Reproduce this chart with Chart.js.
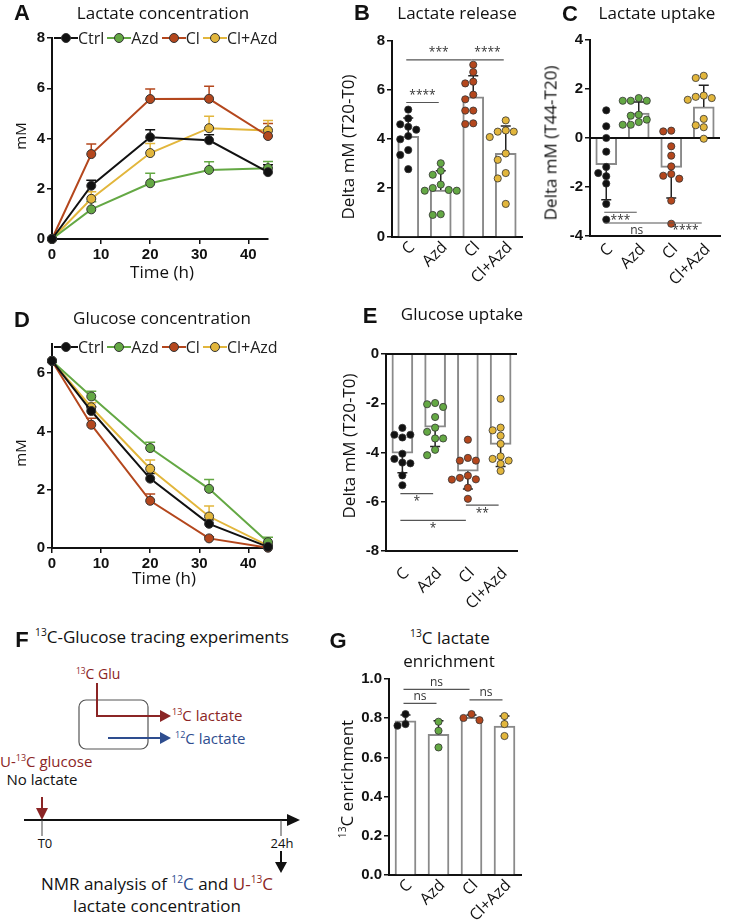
<!DOCTYPE html>
<html>
<head>
<meta charset="utf-8">
<script src="https://cdn.jsdelivr.net/npm/chart.js@4.4.1/dist/chart.umd.min.js"></script>
<style>
body { margin: 0; background: #fff; }
#fig { position: relative; width: 740px; height: 922px; overflow: hidden; font-family: "Open Sans", sans-serif; color: #111; }
canvas { position: absolute; }
.t { position: absolute; white-space: nowrap; transform: translate(-50%, -50%); line-height: 1; }
.tl { position: absolute; white-space: nowrap; transform: translate(0, -50%); line-height: 1; }
.lab { font-family: "Liberation Sans", Arial, sans-serif; font-weight: bold; font-size: 22px; }
.ttl { font-size: 17px; }
.yt { font-size: 17px; transform: translate(-50%, -50%) rotate(-90deg); }
.red { color: #8b2525; }
.blue { color: #2e4d8f; }
sup { font-size: 0.6em; vertical-align: 0.6em; line-height: 0; }
.lg { position: absolute; display: flex; align-items: center; transform: translateY(-50%); font-size: 16px; color: #222; line-height: 1; }
.lg span { display: flex; align-items: center; margin-right: 3px; }
.ic { display: inline-block; width: 24px; height: 10px; position: relative; }
.ic::before { content: ''; position: absolute; left: 0; right: 0; top: 4px; height: 2px; background: var(--c); }
.ic::after { content: ''; position: absolute; left: 7px; top: 0; width: 8px; height: 8px; border-radius: 50%; background: var(--c); border: 1px solid #333; }
</style>
</head>
<body>
<div id="fig">
  <canvas id="chA"></canvas>
  <canvas id="chB"></canvas>
  <canvas id="chC"></canvas>
  <canvas id="chD"></canvas>
  <canvas id="chE"></canvas>
  <canvas id="chG"></canvas>

  <div class="t lab" style="left:22px;top:13px">A</div>
  <div class="t ttl" style="left:163px;top:12px">Lactate concentration</div>
  <div class="t lab" style="left:362px;top:13px">B</div>
  <div class="t ttl" style="left:457px;top:12px">Lactate release</div>
  <div class="t lab" style="left:570px;top:14px">C</div>
  <div class="t ttl" style="left:657px;top:12px">Lactate uptake</div>
  <div class="t yt" style="left:20px;top:136px;font-size:15px">mM</div>
  <div class="t yt" style="left:347px;top:147px">Delta mM (T20-T0)</div>
  <div class="t yt" style="left:550px;top:143px">Delta mM (T44-T20)</div>
  <div class="t ttl" style="left:162px;top:271px">Time (h)</div>
  <div class="lg" id="legA" style="left:54px;top:38px"></div>

  <div class="t lab" style="left:22px;top:320px">D</div>
  <div class="t ttl" style="left:162px;top:317px">Glucose concentration</div>
  <div class="t lab" style="left:370px;top:316px">E</div>
  <div class="t ttl" style="left:462px;top:313px">Glucose uptake</div>
  <div class="t yt" style="left:20px;top:453px;font-size:15px">mM</div>
  <div class="t yt" style="left:348px;top:446px">Delta mM (T20-T0)</div>
  <div class="t ttl" style="left:164px;top:577px">Time (h)</div>
  <div class="lg" id="legD" style="left:54px;top:347px"></div>

  <div class="t lab" style="left:22px;top:640px">F</div>
  <div class="t ttl" style="left:162px;top:636px"><sup>13</sup>C-Glucose tracing experiments</div>
  <div class="tl red" style="left:76px;top:674px;font-size:14px"><sup>13</sup>C Glu</div>
  <div class="tl red" style="left:172px;top:715px;font-size:15px"><sup>13</sup>C lactate</div>
  <div class="tl blue" style="left:175px;top:738px;font-size:15px"><sup>12</sup>C lactate</div>
  <div class="tl red" style="left:0px;top:761px;font-size:15px">U-<sup>13</sup>C glucose</div>
  <div class="t" style="left:42px;top:779px;font-size:15px">No lactate</div>
  <div class="t" style="left:45px;top:843px;font-size:13px">T0</div>
  <div class="t" style="left:282px;top:843px;font-size:13px">24h</div>
  <div class="t" style="left:157px;top:883px;font-size:17px">NMR analysis of <span class="blue"><sup>12</sup>C</span> and <span class="red">U-<sup>13</sup>C</span></div>
  <div class="t" style="left:157px;top:905px;font-size:17px">lactate concentration</div>

  <div class="t lab" style="left:338px;top:641px">G</div>
  <div class="t ttl" style="left:450px;top:637px"><sup>13</sup>C lactate</div>
  <div class="t ttl" style="left:449px;top:660px">enrichment</div>
  <div class="t yt" style="left:346px;top:779px"><sup>13</sup>C enrichment</div>

  <svg style="position:absolute;left:0;top:0;pointer-events:none" width="740" height="922">
    <rect x="79" y="700" width="69" height="49" rx="7" fill="none" stroke="#555" stroke-width="1.2"/>
    <path d="M97 683 V716 H162" stroke="#8b2525" stroke-width="2" fill="none"/>
    <polygon points="160,710 171,716 160,722" fill="#8b2525"/>
    <path d="M108 738 H162" stroke="#2e4d8f" stroke-width="2"/>
    <polygon points="160,732 171,738 160,744" fill="#2e4d8f"/>
    <path d="M42 797 V810" stroke="#8b2525" stroke-width="2"/>
    <polygon points="36,808 42,820 48,808" fill="#8b2525"/>
    <path d="M24 820 H290" stroke="#111" stroke-width="2"/>
    <polygon points="287,814 300,820 287,826" fill="#111"/>
    <path d="M42 820 V836 M281 820 V836" stroke="#444" stroke-width="1"/>
    <path d="M281 851 V864" stroke="#111" stroke-width="2"/>
    <polygon points="275,862 281,873 287,862" fill="#111"/>
  </svg>
</div>

<script>
// ---- data ----
const timeH = [0, 8, 20, 32, 44];
const seriesNames = ["Ctrl", "Azd", "Cl", "Cl+Azd"];
const groupNames = ["C", "Azd", "Cl", "Cl+Azd"];
const colors = ["#111111", "#64a844", "#b4471d", "#e2b63c"];

// A - lactate concentration (mM), mean and SD
const lacCtrl = [0, 2.12, 4.05, 3.93, 2.66];
const lacCtrlSd = [0, 0.22, 0.3, 0.22, 0.3];
const lacAzd = [0, 1.18, 2.22, 2.75, 2.82];
const lacAzdSd = [0, 0.3, 0.4, 0.32, 0.26];
const lacCl = [0, 3.38, 5.57, 5.58, 4.1];
const lacClSd = [0, 0.4, 0.4, 0.5, 0.5];
const lacClAzd = [0, 1.6, 3.42, 4.41, 4.32];
const lacClAzdSd = [0, 0.28, 0.38, 0.48, 0.4];

// D - glucose concentration (mM)
const gluCtrl = [6.42, 4.7, 2.38, 0.83, 0.04];
const gluCtrlSd = [0, 0.15, 0.18, 0.14, 0.05];
const gluAzd = [6.42, 5.2, 3.43, 2.03, 0.2];
const gluAzdSd = [0, 0.18, 0.2, 0.32, 0.17];
const gluCl = [6.42, 4.23, 1.62, 0.33, 0.01];
const gluClSd = [0, 0.22, 0.23, 0.06, 0.03];
const gluClAzd = [6.42, 4.83, 2.72, 1.08, 0.08];
const gluClAzdSd = [0, 0.15, 0.3, 0.36, 0.1];

// B - lactate release, delta mM (T20-T0)
const relMean = [4.11, 1.92, 5.72, 3.42];
const relSd = [0.75, 0.78, 0.86, 1.11];
const relDots = [
  [5.2, 4.84, 4.6, 4.5, 4.38, 4.12, 3.99, 3.55, 3.35, 2.77],
  [3.01, 2.7, 2.54, 2.14, 2.0, 1.89, 1.89, 1.92, 0.9, 0.93],
  [7.03, 6.73, 6.34, 6.27, 5.81, 5.62, 5.16, 5.16, 4.61, 4.64],
  [4.76, 4.35, 4.3, 4.3, 4.08, 3.41, 3.15, 2.61, 2.39, 1.35]
];
const relSig = [[0, 2, 7.23, "***"], [2, 3, 7.23, "****"], [0, 1, 5.49, "****"]];

// C - lactate uptake, delta mM (T44-T20)
const uptMean = [-1.09, 1.02, -1.2, 1.27];
const uptSd = [1.43, 0.45, 1.25, 0.88];
const uptDots = [
  [1.13, 0.48, 0.0, -0.56, -1.18, -1.43, -1.56, -1.86, -2.69, -3.33],
  [1.63, 1.52, 1.52, 1.52, 0.91, 0.95, 0.75, 0.65, 0.54, 0.54],
  [0.3, 0.27, -0.34, -0.72, -1.16, -1.54, -1.66, -1.47, -2.56, -3.5],
  [2.45, 2.54, 1.63, 1.73, 1.56, 0.78, 0.44, 0.52, -0.03, 1.68]
];
const uptSig = [[0, 1, -3.03, "***"], [0, 2, -3.47, "ns"], [2, 3, -3.47, "****"]];

// E - glucose uptake, delta mM (T20-T0)
const gupMean = [-4.03, -2.97, -4.76, -3.67];
const gupSd = [0.79, 0.79, 0.72, 0.9];
const gupDots = [
  [-3.28, -3.28, -3.0, -3.39, -4.26, -4.44, -4.05, -4.41, -4.93, -5.33],
  [-1.99, -2.15, -2.04, -2.56, -2.99, -3.16, -3.43, -3.43, -3.89, -4.11],
  [-3.48, -4.22, -4.33, -4.33, -4.94, -5.09, -5.03, -5.1, -5.43, -5.88],
  [-1.82, -3.1, -2.99, -3.32, -3.65, -4.26, -4.16, -4.33, -4.46, -4.75]
];
const gupSig = [[0, 1, -5.67, "*"], [0, 2, -6.76, "*"], [2, 3, -6.14, "**"]];

// G - 13C lactate enrichment
const enrMean = [0.786, 0.718, 0.804, 0.76];
const enrSd = [0.03, 0.069, 0.012, 0.051];
const enrDots = [
  [0.762, 0.821, 0.77],
  [0.782, 0.736, 0.651],
  [0.79, 0.821, 0.801],
  [0.811, 0.77, 0.709]
];
const enrSig = [[0, 1, 0.876, "ns"], [0, 2, 0.947, "ns"], [2, 3, 0.893, "ns"]];

// ---- styles ----
const FONT_TICK = { family: '"Liberation Sans", Arial, sans-serif', size: 15, weight: 'bold' };
const FONT_CAT = { family: '"Open Sans", sans-serif', size: 16 };

// legends for A and D
['legA', 'legD'].forEach(id => {
  const el = document.getElementById(id);
  seriesNames.forEach((n, i) => {
    const s = document.createElement('span');
    s.innerHTML = '<i class="ic" style="--c:' + colors[i] + '"></i>' + n;
    el.appendChild(s);
  });
});

/* error bars on the line charts (upper side only) */
const lineErr = {
  id: 'lineErr',
  beforeDatasetsDraw(chart) {
    const ctx = chart.ctx, ys = chart.scales.y;
    chart.data.datasets.forEach((ds, di) => {
      const meta = chart.getDatasetMeta(di);
      ctx.save();
      ctx.strokeStyle = ds.borderColor;
      ctx.lineWidth = 1.5;
      meta.data.forEach((pt, i) => {
        const sd = ds.sd[i];
        if (!sd) return;
        const top = ys.getPixelForValue(ds.data[i].y + sd);
        ctx.beginPath();
        ctx.moveTo(pt.x, pt.y);
        ctx.lineTo(pt.x, top);
        ctx.moveTo(pt.x - 5, top);
        ctx.lineTo(pt.x + 5, top);
        ctx.stroke();
      });
      ctx.restore();
    });
  }
};

/* zero line, error bars, dots and significance bars for the bar panels */
const barExtras = {
  id: 'barExtras',
  afterDatasetsDraw(chart, args, o) {
    const ctx = chart.ctx, xs = chart.scales.x, ys = chart.scales.y, area = chart.chartArea;
    ctx.save();

    if (o.zero) {
      const y0 = ys.getPixelForValue(0);
      ctx.strokeStyle = '#111';
      ctx.lineWidth = 2;
      ctx.beginPath();
      ctx.moveTo(area.left, y0);
      ctx.lineTo(area.right, y0);
      ctx.stroke();
    }

    // SD bars
    const ds = chart.data.datasets[0];
    chart.getDatasetMeta(0).data.forEach((bar, i) => {
      const m = ds.data[i];
      const tip = ys.getPixelForValue(m + Math.sign(m) * ds.sd[i]);
      ctx.strokeStyle = '#222';
      ctx.lineWidth = 1.5;
      ctx.beginPath();
      ctx.moveTo(bar.x, bar.y);
      ctx.lineTo(bar.x, tip);
      ctx.moveTo(bar.x - 5, tip);
      ctx.lineTo(bar.x + 5, tip);
      ctx.stroke();
    });

    // individual values, simple beeswarm
    const step = 8, dia = 7;
    o.dots.forEach((vals, gi) => {
      const cx = xs.getPixelForValue(gi);
      const placed = [];
      vals.slice().sort((a, b) => b - a).forEach(v => {
        const y = ys.getPixelForValue(v);
        let x = cx;
        for (const k of [0, -1, 1, -2, 2, -3, 3]) {
          x = cx + k * step;
          if (placed.every(p => Math.hypot(p.x - x, p.y - y) >= dia)) break;
        }
        placed.push({ x, y });
      });
      placed.forEach(p => {
        ctx.beginPath();
        ctx.arc(p.x, p.y, 3.6, 0, Math.PI * 2);
        ctx.fillStyle = colors[gi];
        ctx.fill();
        ctx.strokeStyle = '#333';
        ctx.lineWidth = 0.8;
        ctx.stroke();
      });
    });

    // significance bars
    ctx.font = '12px "Open Sans", sans-serif';
    ctx.textAlign = 'center';
    o.sig.forEach(([a, b, v, txt]) => {
      const x1 = xs.getPixelForValue(a) - 2, x2 = xs.getPixelForValue(b) - 2;
      const y = ys.getPixelForValue(v);
      ctx.strokeStyle = '#555';
      ctx.lineWidth = 1.2;
      ctx.beginPath();
      ctx.moveTo(x1, y);
      ctx.lineTo(x2, y);
      ctx.stroke();
      ctx.fillStyle = '#333';
      if (o.below) {
        ctx.textBaseline = 'top';
        ctx.fillText(txt, (x1 + x2) / 2, y + 2);
      } else {
        ctx.textBaseline = 'bottom';
        ctx.fillText(txt, (x1 + x2) / 2, y - 1);
      }
    });
    ctx.restore();
  }
};

function valueAxis(min, max, step, fmt) {
  const ax = {
    type: 'linear', min, max,
    ticks: { stepSize: step, includeBounds: false, font: FONT_TICK, color: '#111', padding: 2 },
    grid: { drawOnChartArea: false, drawTicks: true, tickLength: 5, color: '#111', lineWidth: 1.5 },
    border: { display: true, color: '#111', width: 2 }
  };
  if (fmt) ax.ticks.callback = fmt;
  return ax;
}

function catAxis(pad) {
  return {
    type: 'category',
    ticks: { font: FONT_CAT, color: '#111', minRotation: 45, maxRotation: 45, autoSkip: false, padding: pad, labelOffset: 4 },
    grid: { display: false, drawTicks: false },
    border: { display: true, color: '#111', width: 2 }
  };
}

function makeChart(id, box, area, yw, xh, config) {
  const cv = document.getElementById(id);
  cv.width = box.w; cv.height = box.h;
  cv.style.left = box.x + 'px'; cv.style.top = box.y + 'px';
  cv.style.width = box.w + 'px'; cv.style.height = box.h + 'px';
  const o = config.options;
  o.responsive = false;
  o.animation = false;
  o.layout = { padding: {
    left: area.l - box.x - yw, top: area.t - box.y,
    right: box.x + box.w - area.r, bottom: box.y + box.h - area.b - xh } };
  o.scales.x.afterFit = s => { s.height = xh; };
  o.scales.y.afterFit = s => { s.width = yw; };
  o.plugins = Object.assign({ legend: { display: false }, tooltip: { enabled: false } }, o.plugins || {});
  return new Chart(cv, config);
}

function lineSet(label, vals, sd, color) {
  return {
    label, sd,
    data: timeH.map((t, i) => ({ x: t, y: vals[i] })),
    borderColor: color, backgroundColor: color, borderWidth: 2,
    pointRadius: 4.5, pointBorderColor: '#333', pointBorderWidth: 1,
    tension: 0, clip: false
  };
}

function lineChart(id, box, area, sets, yMax) {
  return makeChart(id, box, area, 30, 26, {
    type: 'line',
    data: { datasets: sets.map((s, i) => lineSet(seriesNames[i], s[0], s[1], colors[i])) },
    options: { scales: { x: valueAxis(0, 44, 10), y: valueAxis(0, yMax, 2) } },
    plugins: [lineErr]
  });
}

function barChart(id, box, area, yw, xh, pad, yAxis, means, sds, dots, sig, extra) {
  return makeChart(id, box, area, yw, xh, {
    type: 'bar',
    data: {
      labels: groupNames,
      datasets: [{ data: means, sd: sds, backgroundColor: '#fff', borderColor: '#8a8a8a', borderWidth: 2, barThickness: 21 }]
    },
    options: {
      scales: { x: catAxis(pad), y: yAxis },
      plugins: { barExtras: Object.assign({ dots, sig }, extra) }
    },
    plugins: [barExtras]
  });
}

lineChart('chA', { x: 0, y: 18, w: 290, h: 250 }, { l: 52, t: 38, r: 268, b: 239 },
  [[lacCtrl, lacCtrlSd], [lacAzd, lacAzdSd], [lacCl, lacClSd], [lacClAzd, lacClAzdSd]], 8);

lineChart('chD', { x: 0, y: 325, w: 290, h: 250 }, { l: 52, t: 344, r: 268, b: 548 },
  [[gluCtrl, gluCtrlSd], [gluAzd, gluAzdSd], [gluCl, gluClSd], [gluClAzd, gluClAzdSd]], 7);

barChart('chB', { x: 355, y: 22, w: 180, h: 285 }, { l: 392, t: 41, r: 522, b: 237 }, 30, 60, 1,
  valueAxis(0, 8, 2), relMean, relSd, relDots, relSig, {});

barChart('chC', { x: 555, y: 22, w: 180, h: 285 }, { l: 590, t: 40, r: 720, b: 236 }, 30, 60, 4,
  valueAxis(-4, 4, 2), uptMean, uptSd, uptDots, uptSig, { zero: true, below: true });

barChart('chE', { x: 350, y: 335, w: 180, h: 290 }, { l: 386, t: 354, r: 517, b: 551 }, 30, 70, 13,
  valueAxis(-8, 0, 2), gupMean, gupSd, gupDots, gupSig, { zero: true, below: true });

barChart('chG', { x: 350, y: 660, w: 185, h: 262 }, { l: 389, t: 679, r: 521, b: 875 }, 34, 47, 1,
  valueAxis(0, 1, 0.2, v => v.toFixed(1)), enrMean, enrSd, enrDots, enrSig, {});
</script>
</body>
</html>
